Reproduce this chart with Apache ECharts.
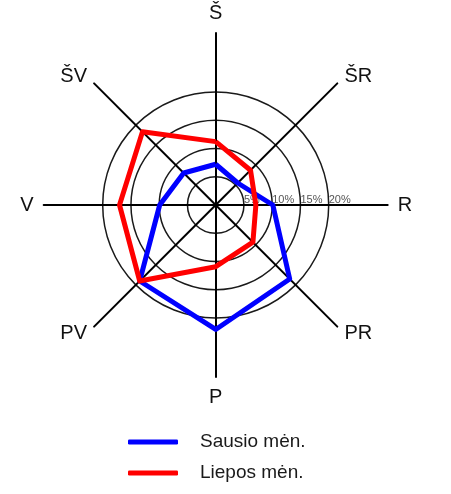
<!DOCTYPE html>
<html>
<head>
<meta charset="utf-8">
<script src="https://cdn.jsdelivr.net/npm/echarts@6/dist/echarts.min.js"></script>
<style>
  html, body { margin: 0; padding: 0; background: #fff; }
  #chart { width: 451px; height: 494px; }
</style>
</head>
<body>
<div id="chart"></div>
<script>
// directions, counter-clockwise from north (radar default order)
var directions = ['Š', 'ŠV', 'V', 'PV', 'P', 'PR', 'R', 'ŠR'];
// wind frequency, %
var sausio = [7.2, 8.0, 9.9, 19.0, 22.0, 18.5, 10.1, 5.5];
var liepos = [11.2, 18.3, 17.0, 19.0, 10.9, 9.3, 7.1, 8.7];
var ringTicks = [5, 10, 15, 20];
var seriesNames = ['Sausio mėn.', 'Liepos mėn.'];

var axisMax = 30.4; // axis lines run past the 20% ring
var ringMax = ringTicks[ringTicks.length - 1];

document.addEventListener('DOMContentLoaded', () => {
  var chart = echarts.init(document.querySelector('#chart'));
  chart.setOption({
    animation: false,
    legend: {
      orient: 'vertical',
      left: 123,
      top: 426,
      itemWidth: 50,
      itemHeight: 5,
      itemGap: 9,
      icon: 'roundRect',
      textStyle: {
        fontFamily: 'Liberation Sans',
        fontSize: 19,
        color: '#1a1a1a',
        lineHeight: 22,
        padding: [0, 0, 0, 17]
      },
      data: seriesNames
    },
    radar: [
      {
        // rings + % labels
        center: [215.7, 205],
        radius: 113,
        shape: 'circle',
        splitNumber: ringTicks.length,
        indicator: directions.map((d) => ({
          name: d,
          min: 0,
          max: ringMax,
          axisLabel: d === 'R' ? {
            show: true,
            showMinLabel: false,
            align: 'left',
            verticalAlign: 'bottom',
            margin: 0,
            fontFamily: 'Liberation Sans',
            fontSize: 11,
            color: '#555',
            formatter: (v) => (v > 0 ? v + '%' : '')
          } : { show: false }
        })),
        axisName: { show: false },
        axisLine: { show: false },
        axisTick: { show: false },
        splitLine: { lineStyle: { color: '#1a1a1a', width: 1.5 } },
        splitArea: { show: false }
      },
      {
        center: [215.7, 205],
        radius: 172,
        shape: 'circle',
        indicator: directions.map((d) => ({ name: d, min: 0, max: axisMax })),
        nameGap: 10,
        axisName: {
          color: '#111',
          fontFamily: 'Liberation Sans',
          fontSize: 20
        },
        axisLine: { lineStyle: { color: '#000', width: 2 } },
        axisTick: { show: false },
        axisLabel: { show: false },
        splitLine: { show: false },
        splitArea: { show: false }
      }
    ],
    series: [
      {
        type: 'radar',
        radarIndex: 1,
        symbol: 'none',
        data: [
          {
            name: seriesNames[0],
            value: sausio,
            lineStyle: { color: '#0000ff', width: 5 },
            itemStyle: { color: '#0000ff' }
          }
        ]
      },
      {
        type: 'radar',
        radarIndex: 1,
        symbol: 'none',
        data: [
          {
            name: seriesNames[1],
            value: liepos,
            lineStyle: { color: '#ff0000', width: 5 },
            itemStyle: { color: '#ff0000' }
          }
        ]
      }
    ]
  });
});
</script>
</body>
</html>
